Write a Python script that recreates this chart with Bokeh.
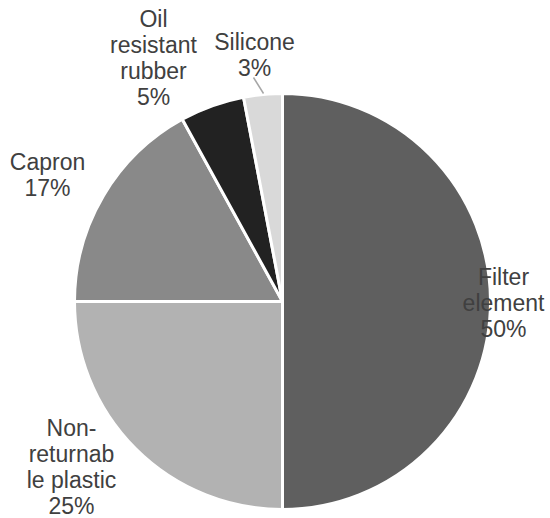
import math
from bokeh.plotting import figure
from bokeh.models import ColumnDataSource
from bokeh.core.properties import value
from bokeh.embed import file_html
from bokeh.resources import INLINE

# ---- data ----
categories = ["Filter element", "Non-returnable plastic", "Capron", "Oil resistant rubber", "Silicone"]
values = [50, 25, 17, 5, 3]
label_lines = [["Filter", "element"], ["Non-", "returnab", "le plastic"], ["Capron"],
               ["Oil", "resistant", "rubber"], ["Silicone"]]

# ---- styles / layout ----
colors = ["#5f5f5f", "#b2b2b2", "#898989", "#222222", "#d9d9d9"]
W, H = 550, 518
CX, CY, R = 282, 301, 208          # pixel coords (y down)
# label anchor: (center x, first baseline y) in pixels
BASE_SHIFT = -7
label_pos = [(503, 283), (71, 434), (47, 168), (153, 25), (254, 48)]
LINE_STEP = 26.0
FONT = "Liberation Sans"
FSIZE = "23px"
TCOL = "#404040"

def Y(py):
    return H - py

p = figure(width=W, height=H, x_range=(0, W), y_range=(0, H),
           output_backend="svg", toolbar_location=None, min_border=0)
p.axis.visible = False
p.grid.visible = False
p.outline_line_color = None
p.background_fill_color = "white"

total = sum(values)
starts, ends = [], []
cum = 0
for v in values:
    s = math.pi / 2 - 2 * math.pi * cum / total
    e = s - 2 * math.pi * v / total
    starts.append(s)
    ends.append(e)
    cum += v

src = ColumnDataSource(dict(cat=categories, val=values, start=starts, end=ends, color=colors))
p.wedge(x=CX, y=Y(CY), radius=R, start_angle="start", end_angle="end", direction="clock",
        fill_color="color", line_color="white", line_width=3, source=src)

# labels
xs, ys, texts = [], [], []
for lines, v, (lx, ly) in zip(label_lines, values, label_pos):
    all_lines = lines + [f"{round(100 * v / total)}%"]
    for i, t in enumerate(all_lines):
        xs.append(lx)
        ys.append(Y(ly + BASE_SHIFT + i * LINE_STEP))
        texts.append(t)
p.text(x=xs, y=ys, text=texts, text_align="center", text_baseline="alphabetic",
       text_font=value(FONT), text_font_size=FSIZE, text_color=TCOL)

# leader line for Silicone
p.line(x=[253, 263], y=[Y(77), Y(93)], line_color="#a6a6a6", line_width=1.5)

open("out.html", "w").write(file_html(p, INLINE))
